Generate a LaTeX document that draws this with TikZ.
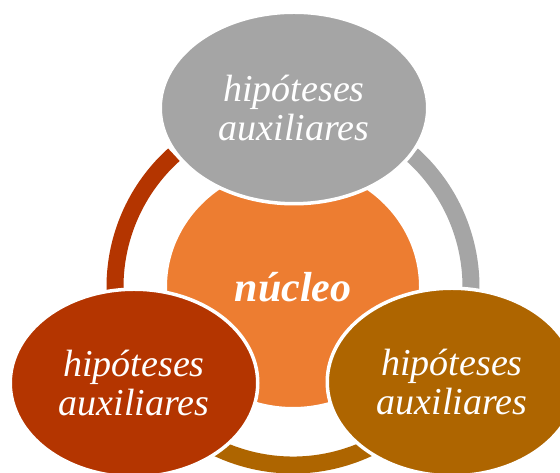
\documentclass[tikz,border=0pt]{standalone}
\usepackage{fontspec}
\setmainfont{Liberation Serif}
\usetikzlibrary{shapes.geometric}
\definecolor{cgray}{HTML}{A5A5A5}
\definecolor{corange}{HTML}{ED7D31}
\definecolor{cred}{HTML}{B43500}
\definecolor{cbrown}{HTML}{AE6500}
\begin{document}
\begin{tikzpicture}[x=1pt,y=1pt,
  blob/.style={ellipse, draw=white, line width=3.5pt, inner sep=0pt, text=white, align=center,
    font=\fontsize{38}{39}\selectfont\itshape},
  ringarc/.style={line width=17pt, line cap=butt}]
\useasboundingbox (0,0) rectangle (560,473);
\fill[white] (0,0) rectangle (560,473);
\coordinate (c) at (293,186);
% ring arcs
\draw[ringarc, cred] (c) ++(132:178) arc[start angle=132, end angle=190, radius=178];
\draw[ringarc, cgray] (c) ++(48:178) arc[start angle=48, end angle=-10, radius=178];
\draw[ringarc, cbrown] (c) ++(200:178) arc[start angle=200, end angle=340, radius=178];
% centre
\node[blob, fill=corange, minimum width=255.5pt, minimum height=243.5pt,
  font=\fontsize{42}{44}\selectfont\bfseries\itshape] (nucleo) at (c) {núcleo};
% satellites
\node[blob, fill=cgray, minimum width=267.5pt, minimum height=191.5pt] (top) at (294,365) {hipóteses\\auxiliares};
\node[blob, fill=cred, minimum width=247.5pt, minimum height=187.5pt] (left) at (134,90) {hipóteses\\auxiliares};
\node[blob, fill=cbrown, minimum width=249.5pt, minimum height=187.5pt] (right) at (452,91) {hipóteses\\auxiliares};
\end{tikzpicture}
\end{document}
